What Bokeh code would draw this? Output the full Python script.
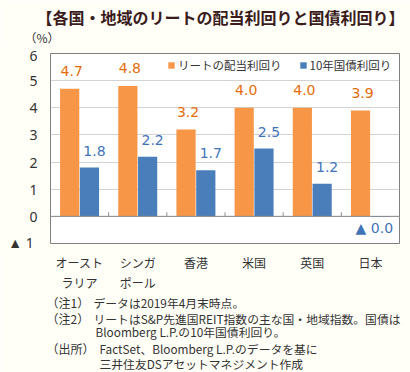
from bokeh.plotting import figure
from bokeh.layouts import column
from bokeh.models import (ColumnDataSource, FactorRange, Range1d, FixedTicker, Span,
                          Label, Legend, LegendItem)
from bokeh.transform import dodge
from bokeh.embed import file_html
from bokeh.resources import INLINE

# ---- data ----
categories = ["オーストラリア", "シンガポール", "香港", "米国", "英国", "日本"]
cat_line1 = ["オースト", "シンガ", "香港", "米国", "英国", "日本"]
cat_line2 = ["ラリア", "ポール", "", "", "", ""]
reit_yield = [4.7, 4.8, 3.2, 4.0, 4.0, 3.9]
bond_yield = [1.8, 2.2, 1.7, 2.5, 1.2, -0.02]
y_ticks = [-1, 0, 1, 2, 3, 4, 5, 6]
series_names = ["リートの配当利回り", "10年国債利回り"]
title_text = "【各国・地域のリートの配当利回りと国債利回り】"
unit_text = "（%）"
note_prefix = ["（注1）", "（注2）", "", "（出所）", ""]
note_body = [
    "データは2019年4月末時点。",
    "リートはS&P先進国REIT指数の主な国・地域指数。国債は",
    "Bloomberg L.P.の10年国債利回り。",
    "FactSet、Bloomberg L.P.のデータを基に",
    "三井住友DSアセットマネジメント作成",
]

ORANGE = "#F79646"
BLUE = "#4A7EBB"
ORANGE_TXT = "#E46C0A"
BLUE_TXT = "#3F74B8"
JP = "Noto Sans CJK JP"
CREAM = "#fffef7"
TXT = "#333333"

W = 410
HEAD_H, MAIN_H, FOOT_H = 45, 206, 121
FL, FR = 50, 399          # frame left/right (page px)


def fmt(v):
    return ("▲ %.1f" % abs(v)) if v < 0 else ("%.1f" % v)


def blank_fig(h):
    f = figure(width=W, height=h, x_range=Range1d(0, W), y_range=Range1d(0, h),
               x_axis_type=None, y_axis_type=None, output_backend="svg",
               toolbar_location=None, min_border=0, frame_align=False)
    f.outline_line_color = None
    f.background_fill_color = CREAM
    f.border_fill_color = CREAM
    f.grid.visible = False
    return f


def lab(f, h, px, py, text, size="12px", align="left", color=TXT, style="normal"):
    f.add_layout(Label(x=px, y=h - py, text=text, text_align=align, text_baseline="middle",
                       text_font_size=size, text_color=color, text_font_style=style,
                       text_font=JP))


# ---- header ----
head = blank_fig(HEAD_H)
lab(head, HEAD_H, 220, 16, title_text, size="16px", align="center", color="#3a1c1c",
    style="bold")
lab(head, HEAD_H, 24, 37, unit_text, size="12px")

# ---- main chart ----
p = figure(width=W, height=MAIN_H, x_range=FactorRange(factors=categories, range_padding=0),
           y_range=Range1d(-1, 6), output_backend="svg", toolbar_location=None,
           min_border_left=FL, min_border_right=W - FR, min_border_top=8,
           min_border_bottom=8, frame_align=False)
p.background_fill_color = "white"
p.border_fill_color = CREAM
p.outline_line_color = "#7f7f7f"

src = ColumnDataSource(dict(
    cat=categories, reit=reit_yield, bond=bond_yield,
    reit_lbl=[fmt(v) for v in reit_yield], bond_lbl=[fmt(v) for v in bond_yield],
    bond_lbl_y=[max(v, 0) for v in bond_yield],
    bond_off=[12 if v < 0 else -17 for v in bond_yield],
    bond_xoff=[-6 if v < 0 else 5 for v in bond_yield],
))

r1 = p.vbar(x=dodge("cat", -0.17, range=p.x_range), top="reit", width=0.33, source=src,
            fill_color=ORANGE, line_color=None)
r2 = p.vbar(x=dodge("cat", 0.17, range=p.x_range), top="bond", width=0.33, source=src,
            fill_color=BLUE, line_color=None)

p.text(x=dodge("cat", -0.17, range=p.x_range), y="reit", text="reit_lbl", source=src,
       x_offset=2, y_offset=-18, text_align="center", text_baseline="middle",
       text_font_size="14px", text_color=ORANGE_TXT, text_font={"value": "DejaVu Sans"})
p.text(x=dodge("cat", 0.17, range=p.x_range), y="bond_lbl_y", text="bond_lbl", source=src,
       x_offset="bond_xoff", y_offset="bond_off", text_align="center",
       text_baseline="middle", text_font_size="14px", text_color=BLUE_TXT,
       text_font={"value": "DejaVu Sans"})

p.add_layout(Span(location=0, dimension="width", line_color="#8c8c8c", line_width=1))
n = len(categories)
p.segment(x0=list(range(1, n)), x1=list(range(1, n)), y0=[0] * (n - 1),
          y1=[0.15] * (n - 1), line_color="#8c8c8c", line_width=1)

p.xaxis.visible = False
p.xgrid.visible = False
p.ygrid.grid_line_color = "#a6a6a6"
p.ygrid.grid_line_dash = "1 1"
p.yaxis.ticker = FixedTicker(ticks=y_ticks)
p.yaxis.major_label_overrides = {-1: "▲  1"}
p.yaxis.axis_line_color = None
p.yaxis.major_tick_line_color = None
p.yaxis.minor_tick_line_color = None
p.yaxis.major_tick_out = 0
p.yaxis.major_label_standoff = 13
p.yaxis.major_label_text_font_size = "14px"
p.yaxis.major_label_text_font = "Noto Sans"
p.yaxis.major_label_text_color = TXT

leg = Legend(items=[LegendItem(label=series_names[0], renderers=[r1]),
                    LegendItem(label=series_names[1], renderers=[r2])],
             orientation="horizontal", location=(117, 170), padding=0, margin=0,
             spacing=17, label_standoff=3, glyph_width=8, glyph_height=8,
             label_text_font_size="11.5px", label_text_font=JP, label_text_color=TXT,
             border_line_color=None, background_fill_alpha=0)
p.add_layout(leg)

# ---- footer: category labels + notes ----
foot = blank_fig(FOOT_H)
F0 = HEAD_H + MAIN_H   # page y of footer top
cw = (FR - FL) / n
for i, (l1, l2) in enumerate(zip(cat_line1, cat_line2)):
    cx = FL + (i + 0.5) * cw
    lab(foot, FOOT_H, cx, 262 - F0, l1, align="center")
    if l2:
        lab(foot, FOOT_H, cx, 282 - F0, l2, align="center")

note_y = [302, 318, 331, 348, 363]
body_x = [93, 93, 95, 99, 99]
for pre, body, ny, bx in zip(note_prefix, note_body, note_y, body_x):
    if pre:
        lab(foot, FOOT_H, 46, ny - F0, pre)
    lab(foot, FOOT_H, bx, ny - F0, body, size="11.8px")

layout = column(head, p, foot, spacing=0)
open("out.html", "w").write(file_html(layout, INLINE))
